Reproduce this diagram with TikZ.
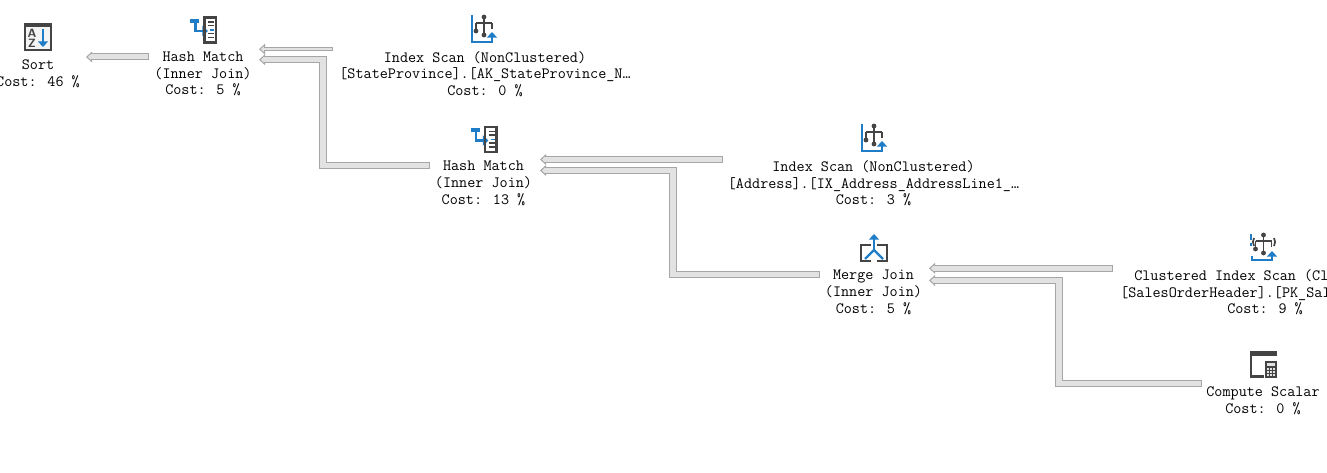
\documentclass[tikz,border=0pt]{standalone}
\usetikzlibrary{arrows.meta}
\definecolor{edgec}{HTML}{A6A6A6}
\definecolor{fillc}{HTML}{E2E2E2}
\definecolor{dark}{HTML}{444444}
\definecolor{bluec}{HTML}{1F7CC6}
\tikzset{
  x=.75pt,y=-.75pt,
  op/.style={font=\ttfamily\fontsize{11.78}{12.5}\selectfont,align=center,inner sep=0pt,text=black},
  flow/.style={
    preaction={draw=edgec,line width=#1,shorten >=0pt,shorten <=0pt,
      -{Triangle[length=4.5pt,width=8pt,line width=.75pt,fill=fillc]}},
    draw=fillc,line width=#1-1.5pt,shorten >=3.6pt,shorten <=.75pt},
  dk/.style={draw=dark,line width=1.7pt},
  bl/.style={draw=bluec,line width=1.7pt},
  tipb/.style={-{Triangle[length=4.2pt,width=7.5pt]}},
  sorticon/.pic={
    \fill[dark] (-14,-14) rectangle (14,14);
    \fill[fillc!40] (-12,-10) rectangle (12,12);
    \node[font=\sffamily\bfseries\fontsize{9}{9}\selectfont,text=dark,inner sep=0pt] at (-6,-4) {A};
    \node[font=\sffamily\bfseries\fontsize{9}{9}\selectfont,text=dark,inner sep=0pt] at (-6,6) {Z};
    \draw[bl,tipb] (5,-8) -- (5,10);
  },
  hashicon/.pic={
    \fill[bluec] (-13,-11) rectangle (-4,-7);
    \draw[bl,tipb] (-7.5,-7) -- (-7.5,1) -- (5,1);
    \draw[dk] (1.5,-12.5) rectangle (13,12.5);
    \foreach \yy in {-8,-4.5,3.5,7.5} \draw[draw=dark,line width=1pt] (5,\yy) -- (11,\yy);
    \draw[draw=bluec,line width=1pt] (7,0) -- (11,0);
  },
  treeicon/.pic={
    \draw[draw=dark,line width=1.4pt] (0,-13) -- (0,5) (-8,-7) -- (8,-7) (-8,-7) -- (-8,1) (8,-7) -- (8,-1);
    \fill[dark] (0,-13) circle (2.4) (0,5) circle (2.4) (-8,1) circle (2.4);
  },
  mergeicon/.pic={
    \draw[dk] (-3,-3) -- (-13,-3) -- (-13,13) -- (-3,13);
    \draw[dk] (3,-3) -- (13,-3) -- (13,13) -- (3,13);
    \draw[bl,tipb] (0,2) -- (0,-14);
    \draw[bl] (-9,11) -- (0,2) -- (9,11);
  },
  calcicon/.pic={
    \fill[dark] (-13.5,-13.5) rectangle (13.5,-8);
    \draw[dk] (-12.7,-8) -- (-12.7,12) -- (0,12);
    \fill[dark] (1,-3) rectangle (13.5,13.5);
    \fill[fillc] (3,-1) rectangle (11.5,2);
    \foreach \xx in {3,6.2,9.4} \foreach \yy in {4,7,10} \fill[fillc] (\xx,\yy) rectangle ++(2,2);
  }
}
\begin{document}
\begin{tikzpicture}
\useasboundingbox (0,0) rectangle (1327,473);
\fill[white] (0,0) rectangle (1327,473);
\clip (0,0) rectangle (1327,473);

% icons
\pic at (38,37) {sorticon};
\pic at (203,30) {hashicon};
\pic at (483.5,139.5) {hashicon};
\pic at (484,30) {treeicon};
\draw[bl] (472,15) -- (472,42) -- (492,42);
\draw[bl,tipb] (492,42.7) -- (492,32);
\pic at (874,139) {treeicon};
\draw[bl] (862,124) -- (862,151) -- (882,151);
\draw[bl,tipb] (882,151.7) -- (882,141);
\pic at (874,248) {mergeicon};
\pic at (1263.5,248) {treeicon};
\draw[bl] (1251,234) -- (1251,240) (1251,243) -- (1251,246) (1252,256) -- (1252,260) -- (1272,260);
\draw[bl,tipb] (1272,260.7) -- (1272,251);
\draw[draw=dark,line width=1.3pt] (1254,246) arc (150:210:8) (1274,246) arc (30:-30:8);
\pic at (1263.5,364.5) {calcicon};

% operators
\node[op] (sort) at (38,74) {Sort\\Cost: 46 \%};
\node[op] (hmA) at (203,74) {Hash Match\\(Inner Join)\\Cost: 5 \%};
\node[op] (scanA) at (485,74) {Index Scan (NonClustered)\\{}[StateProvince].[AK\_StateProvince\_N…\\Cost: 0 \%};
\node[op] (hmB) at (483.5,183.5) {Hash Match\\(Inner Join)\\Cost: 13 \%};
\node[op] (scanB) at (873.5,183.5) {Index Scan (NonClustered)\\{}[Address].[IX\_Address\_AddressLine1\_…\\Cost: 3 \%};
\node[op] (mj) at (873.5,292.5) {Merge Join\\(Inner Join)\\Cost: 5 \%};
\node[op,align=left,anchor=west] (ci) at (1120,292.5) {\hspace*{10.5pt}Clustered Index Scan (Cl\\{}[SalesOrderHeader].[PK\_Sal\\\hspace*{80.25pt}Cost: 9 \%};
\node[op] (cs) at (1263,401) {Compute Scalar\\Cost: 0 \%};

% connector ends
\coordinate (sortIn) at (86,57);
\coordinate (hmAOut) at (149,57);
\coordinate (hmAInA) at (259,49.2);
\coordinate (scanAOut) at (333,49.2);
\coordinate (hmAInB) at (259,59.7);
\coordinate (hmBOut) at (430,165.3);
\coordinate (hmBInA) at (540,159.5);
\coordinate (scanBOut) at (722.7,159.5);
\coordinate (hmBInB) at (540,170.5);
\coordinate (mjOut) at (819.5,274.7);
\coordinate (mjInA) at (929,268.3);
\coordinate (ciOut) at (1112.7,268.3);
\coordinate (mjInB) at (929,280.5);
\coordinate (csOut) at (1201.7,383.8);

% connectors
\draw[flow=5.25pt] (hmAOut) -- (sortIn);
\draw[flow=3pt] (scanAOut) -- (hmAInA);
\draw[flow=5.4pt] (hmBOut) -| (323,59.7) -- (hmAInB);
\draw[flow=5pt] (scanBOut) -- (hmBInA);
\draw[flow=5.4pt] (mjOut) -| (673,170.5) -- (hmBInB);
\draw[flow=5pt] (ciOut) -- (mjInA);
\draw[flow=5.4pt] (csOut) -| (1059,280.5) -- (mjInB);
\end{tikzpicture}
\end{document}
